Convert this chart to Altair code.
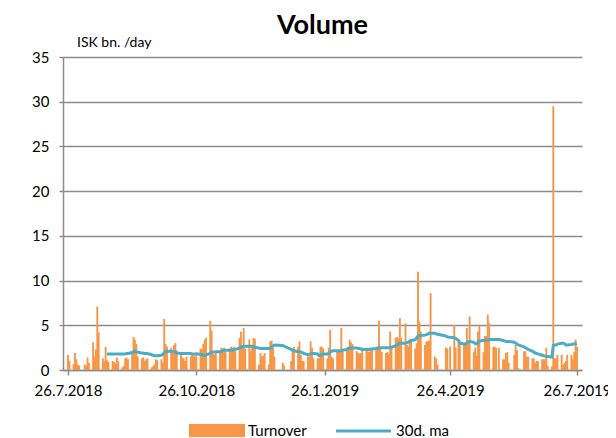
import altair as alt
import pandas as pd

# ---- data (ISK bn. per day), trading days 26.7.2018 - 26.7.2019 ----
first_days = ["2018-07-26", "2018-07-27"]
turnover_first = [1.7, 1.0]
ma_first = [None, None]

# one row per week, Monday..Friday, first Monday = 30.7.2018; None = exchange closed
turnover_weeks = [
    [0.7, 1.9, 1.2, 0.6, 0.5], [None, 0.6, 0.5, 1.4, 0.8], [3.1, 1.5, 2.3, 7.1, 4.2],
    [1.3, 1.0, 2.6, 1.1, 0.9], [1.0, 0.9, 0.7, 1.4, 1.0], [0.3, 0.5, 1.3, 1.4, 1.2],
    [2.0, 3.7, 3.4, 2.9, 1.5], [1.3, 1.4, 1.0, 1.2, 1.3], [0.3, 0.4, 0.6, 1.2, 1.1],
    [1.2, 0.8, 5.7, 2.9, 2.6], [2.5, 2.0, 2.8, 3.0, 2.2], [2.0, 1.4, 1.3, 1.0, 1.5],
    [1.5, 1.8, 1.6, 1.5, 2.0], [2.4, 2.3, 2.9, 3.4, 3.6], [5.5, 4.4, 1.8, 1.7, 2.1],
    [1.9, 2.5, 2.4, 2.5, 2.0], [2.4, 2.6, 2.5, 2.6, 2.1], [3.6, 4.3, 2.8, 4.7, 2.4],
    [3.4, 2.1, 2.8, 3.6, 3.5], [0.6, 1.9, 1.5, 1.6, 1.9], [0.6, 3.2, 3.3, 2.5, 1.5],
    [None, None, None, 0.8, 0.5], [None, None, 1.0, 2.1, 2.6], [2.6, 3.2, 1.7, 1.0, 1.0],
    [1.5, 1.5, 3.2, 2.5, 1.3], [1.3, 1.3, 2.6, 2.6, 2.4], [1.3, 2.5, 4.5, 1.5, 1.3],
    [2.1, 2.2, 2.0, 4.7, 2.1], [2.5, 2.6, 3.4, 3.1, 2.9], [2.1, 1.9, 1.8, 1.9, 2.5],
    [2.5, 2.1, 2.0, 2.2, 2.3], [2.3, 2.6, 5.5, 2.4, 2.0], [1.9, 2.0, 1.8, 4.3, 2.5],
    [3.6, 3.7, 3.5, 5.8, 3.6], [5.2, 2.8, 2.6, 3.0, 3.2], [2.4, 3.0, 11.0, 5.4, 4.3],
    [2.8, 3.2, 3.2, 3.3, 8.6], [1.5, 1.3, 0.6, None, None], [None, 2.5, 2.4, None, 2.6],
    [5.0, 2.5, None, 3.1, 3.0], [2.8, 3.1, 4.7, 3.2, 6.0], [2.0, 2.5, 1.6, 4.3, 5.0],
    [2.0, 3.8, 3.8, 6.2, 5.3], [2.6, 2.6, 2.5, None, 2.5], [1.2, 1.2, 1.9, 2.0, 0.8],
    [None, 1.7, 2.8, 2.2, 0.2], [None, 2.1, 2.1, 1.5, 1.5], [1.3, 1.3, 0.8, 1.0, 1.0],
    [1.2, 1.2, 1.2, 2.5, 0.5], [0.4, 29.5, 1.3, 1.3, 1.7], [1.7, 0.6, 0.8, 1.0, 1.7],
    [1.7, 1.2, 2.0, 3.4, 2.6],
]

ma_weeks = [
    [None] * 5, [None] * 5, [None] * 5,
    [None, None, None, 1.80, 1.80], [1.80, 1.80, 1.80, 1.80, 1.80], [1.80, 1.80, 1.80, 1.85, 1.85],
    [1.95, 2.05, 2.10, 2.05, 2.00], [1.90, 1.90, 1.85, 1.85, 1.85], [1.70, 1.65, 1.60, 1.60, 1.60],
    [1.65, 1.75, 1.95, 2.05, 2.10], [2.10, 2.10, 2.05, 2.00, 1.90], [1.85, 1.85, 1.85, 1.85, 1.85],
    [1.85, 1.80, 1.80, 1.80, 1.80], [1.75, 1.70, 1.65, 1.60, 1.70], [1.85, 2.00, 2.00, 2.00, 2.05],
    [2.05, 2.10, 2.15, 2.20, 2.20], [2.20, 2.20, 2.20, 2.25, 2.30], [2.45, 2.55, 2.60, 2.65, 2.65],
    [2.65, 2.65, 2.65, 2.60, 2.55], [2.45, 2.40, 2.40, 2.40, 2.40], [2.40, 2.45, 2.55, 2.70, 2.80],
    [None, None, None, 2.75, 2.65], [None, None, 2.30, 2.20, 2.15], [2.05, 2.00, 2.00, 1.95, 1.85],
    [1.70, 1.75, 1.80, 1.85, 1.85], [1.80, 1.60, 1.60, 1.75, 1.80], [1.80, 1.85, 2.00, 2.10, 2.15],
    [2.15, 2.15, 2.15, 2.15, 2.20], [2.30, 2.40, 2.40, 2.45, 2.45], [2.45, 2.40, 2.40, 2.35, 2.30],
    [2.30, 2.30, 2.30, 2.35, 2.35], [2.40, 2.45, 2.50, 2.50, 2.50], [2.50, 2.50, 2.50, 2.55, 2.55],
    [2.70, 2.80, 2.90, 3.00, 3.00], [3.00, 3.05, 3.10, 3.20, 3.30], [3.40, 3.60, 3.80, 3.80, 3.85],
    [3.90, 3.95, 4.00, 4.10, 4.10], [4.10, 4.05, 4.00, None, None], [None, 3.80, 3.70, None, 3.65],
    [3.60, 3.55, None, 3.30, 3.00], [2.90, 2.90, 3.00, 3.15, 3.20], [3.10, 2.95, 2.90, 3.10, 3.25],
    [3.30, 3.30, 3.35, 3.35, 3.40], [3.40, 3.40, 3.40, None, 3.40], [3.30, 3.25, 3.20, 3.20, 3.20],
    [None, 3.10, 3.00, 2.90, 2.80], [None, 2.60, 2.50, 2.40, 2.30], [2.10, 2.00, 1.90, 1.85, 1.80],
    [1.65, 1.60, 1.55, 1.50, 1.50], [1.45, 2.75, 2.80, 2.80, 2.90], [3.00, 3.00, 2.95, 2.80, 2.80],
    [2.85, 2.90, 2.90, 2.90, 2.95],
]

tick_dates = [(2018, 7, 26), (2018, 10, 26), (2019, 1, 26), (2019, 4, 26), (2019, 7, 26)]

# ---- build table ----
week_days = pd.bdate_range("2018-07-30", "2019-07-26")
dates = first_days + [d.strftime("%Y-%m-%d") for d in week_days]
turnover = turnover_first + [v for w in turnover_weeks for v in w]
ma = ma_first + [v for w in ma_weeks for v in w]
df = pd.DataFrame({"date": dates, "turnover": turnover, "ma": ma})

ORANGE = "#F79646"
TEAL = "#4BACC6"
GRID = "#8C8C8C"
FONT = "Lato"

xscale = alt.Scale(
    type="utc",
    domain=[alt.DateTime(year=2018, month=7, date=26, utc=True),
            alt.DateTime(year=2019, month=7, date=26, utc=True)],
)
xaxis = alt.Axis(
    values=[alt.DateTime(year=y, month=m, date=d, utc=True) for (y, m, d) in tick_dates],
    labelExpr="utcFormat(datum.value, '%-d.%-m.%Y')",
    grid=False, tickSize=5, labelPadding=8, title=None,
)
yscale = alt.Scale(domain=[0, 35], nice=False)
yaxis = alt.Axis(values=list(range(0, 40, 5)), grid=True, tickSize=4, labelPadding=10, title=None)

bars = alt.Chart(df).transform_filter("isValid(datum.turnover)").mark_bar(
    color=ORANGE, size=1.9).encode(
    x=alt.X("date:T", scale=xscale, axis=xaxis),
    y=alt.Y("turnover:Q", scale=yscale, axis=yaxis),
)
line = alt.Chart(df).transform_filter("isValid(datum.ma)").mark_line(
    color=TEAL, strokeWidth=3).encode(
    x=alt.X("date:T", scale=xscale),
    y=alt.Y("ma:Q", scale=yscale),
)

one = pd.DataFrame({"t": ["Volume"]})
title = alt.Chart(one).mark_text(font=FONT, fontSize=27, fontWeight="bold", align="center",
                                 baseline="alphabetic", color="#000").encode(
    x=alt.value(259.5), y=alt.value(-23), text="t:N")
unit = alt.Chart(pd.DataFrame({"t": ["ISK bn. /day"]})).mark_text(
    font=FONT, fontSize=14, align="left", baseline="alphabetic", color="#000").encode(
    x=alt.value(14), y=alt.value(-10), text="t:N")

leg_rect = alt.Chart(one).mark_rect(color=ORANGE).encode(
    x=alt.value(126), x2=alt.value(182), y=alt.value(367), y2=alt.value(380))
leg_line = alt.Chart(one).mark_rule(color=TEAL, strokeWidth=3).encode(
    x=alt.value(273), x2=alt.value(328), y=alt.value(374))
leg_t1 = alt.Chart(pd.DataFrame({"t": ["Turnover"]})).mark_text(
    font=FONT, fontSize=15, align="left", baseline="middle", color="#000").encode(
    x=alt.value(185), y=alt.value(374), text="t:N")
leg_t2 = alt.Chart(pd.DataFrame({"t": ["30d. ma"]})).mark_text(
    font=FONT, fontSize=15, align="left", baseline="middle", color="#000").encode(
    x=alt.value(333), y=alt.value(374), text="t:N")

chart = alt.layer(bars, line, title, unit, leg_rect, leg_line, leg_t1, leg_t2).properties(
    width=519, height=313,
    padding={"left": 55, "top": 49, "right": 26, "bottom": 68},
    autosize=alt.AutoSizeParams(type="none"),
).configure_view(stroke=None).configure_axis(
    labelFont=FONT, labelFontSize=15, labelColor="#000",
    domainColor=GRID, domainWidth=1.5, tickColor=GRID, tickWidth=1.5,
    gridColor=GRID, gridWidth=1.5,
)

chart.save("out.html", embed_options={"renderer": "svg", "actions": False})
